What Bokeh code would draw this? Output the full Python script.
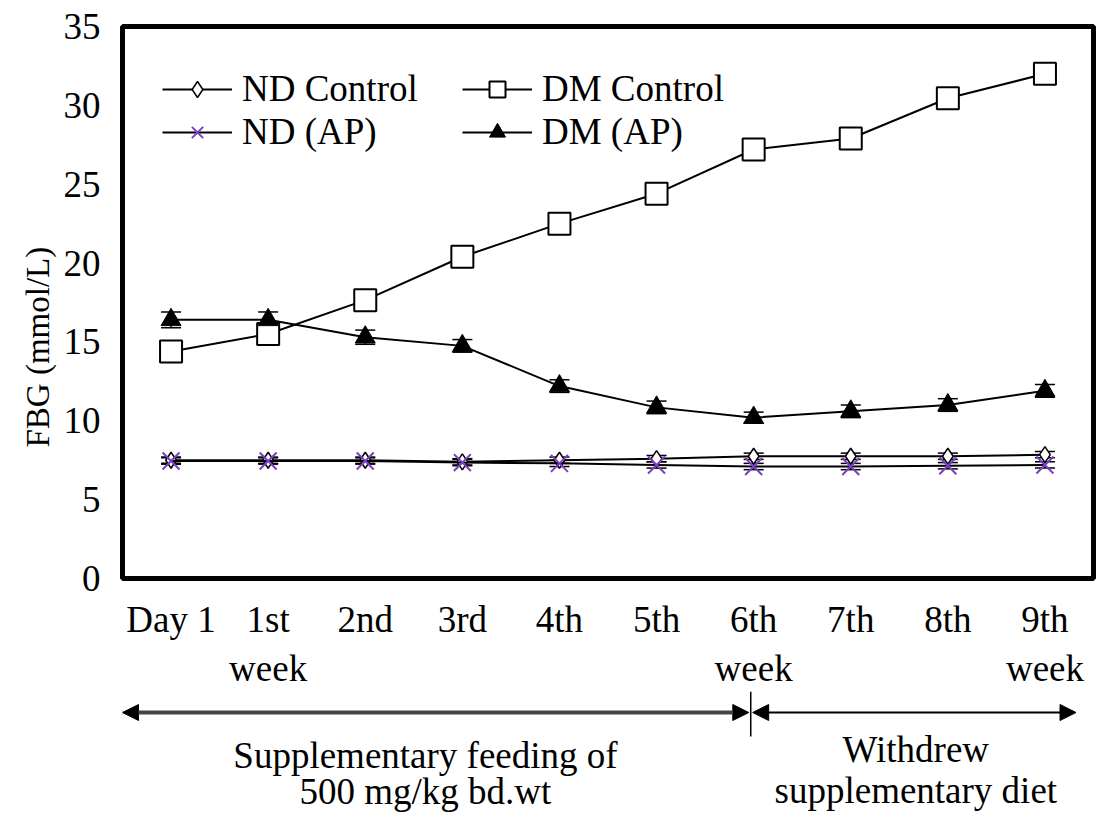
import math
from bokeh.plotting import figure
from bokeh.models import (Range1d, FixedTicker, Legend, LegendItem, Whisker, TeeHead,
                          ColumnDataSource, Title, Arrow, NormalHead)
from bokeh.layouts import column
from bokeh.core.properties import value
from bokeh.embed import file_html
from bokeh.resources import INLINE

# ---------------- data ----------------
categories = ["Day 1", "1st\nweek", "2nd", "3rd", "4th", "5th", "6th\nweek", "7th", "8th", "9th\nweek"]
nd_control = [7.5, 7.5, 7.5, 7.4, 7.5, 7.6, 7.75, 7.75, 7.75, 7.85]
dm_control = [14.4, 15.5, 17.65, 20.4, 22.5, 24.4, 27.2, 27.9, 30.45, 32.0]
nd_ap = [7.45, 7.45, 7.45, 7.35, 7.3, 7.2, 7.1, 7.1, 7.15, 7.2]
dm_ap = [16.4, 16.4, 15.3, 14.75, 12.2, 10.85, 10.2, 10.6, 11.0, 11.9]
nd_control_sd = [0.2, 0.2, 0.2, 0.2, 0.2, 0.2, 0.2, 0.2, 0.2, 0.2]
dm_control_sd = [0.35, 0.4, 0.4, 0.35, 0.4, 0.35, 0.3, 0.35, 0.3, 0.35]
nd_ap_sd = [0.2, 0.2, 0.2, 0.2, 0.2, 0.2, 0.2, 0.2, 0.2, 0.2]
dm_ap_sd = [0.5, 0.5, 0.45, 0.4, 0.4, 0.4, 0.35, 0.4, 0.4, 0.4]
y_ticks = [0, 5, 10, 15, 20, 25, 30, 35]
y_title = "FBG (mmol/L)"
phase_labels = ["Supplementary feeding of", "500 mg/kg bd.wt", "Withdrew", "supplementary diet"]

FONT = "Liberation Serif"
FS = "37px"
PURPLE = "#7B3FC4"

x = list(range(len(categories)))

p = figure(width=1097, height=691, x_range=Range1d(-0.5, len(categories) - 0.5),
           y_range=Range1d(0, 35), output_backend="svg", toolbar_location=None,
           min_border_left=122, min_border_right=4, min_border_top=26, min_border_bottom=110)
p.xgrid.visible = False
p.ygrid.visible = False
p.outline_line_color = "black"
p.outline_line_width = 5
p.background_fill_color = "white"
p.border_fill_color = "white"

p.xaxis.ticker = FixedTicker(ticks=x)
p.xaxis.major_label_overrides = {i: c for i, c in enumerate(categories)}
p.yaxis.ticker = FixedTicker(ticks=y_ticks)
for ax in (p.xaxis, p.yaxis):
    ax.axis_line_color = None
    ax.major_tick_line_color = None
    ax.minor_tick_line_color = None
    ax.major_tick_out = 0
    ax.major_tick_in = 0
    ax.minor_tick_out = 0
    ax.major_label_text_font = FONT
    ax.major_label_text_font_size = FS
    ax.major_label_text_color = "black"
p.xaxis.major_label_standoff = 20
p.yaxis.major_label_standoff = 22

series = [
    ("ND Control", nd_control, nd_control_sd, dict(marker="diamond", size=16, fill_color="white", line_color="black", line_width=1.5)),
    ("DM Control", dm_control, dm_control_sd, dict(marker="square", size=22, fill_color="white", line_color="black", line_width=2)),
    ("ND (AP)", nd_ap, nd_ap_sd, dict(marker="x", size=24, line_color=PURPLE, line_width=2)),
    ("DM (AP)", dm_ap, dm_ap_sd, dict(marker="triangle", size=20, fill_color="black", line_color="black", line_width=1)),
]

items = {}
for name, vals, sd, mk in series:
    src = ColumnDataSource(dict(x=x, y=vals,
                                upper=[v + s for v, s in zip(vals, sd)],
                                lower=[v - s for v, s in zip(vals, sd)]))
    lr = p.line("x", "y", source=src, line_color="black", line_width=2)
    sr = p.scatter("x", "y", source=src, **mk)
    w = Whisker(base="x", upper="upper", lower="lower", source=src, line_color="black", line_width=1.5,
                upper_head=TeeHead(size=20, line_width=1.5, line_color="black"),
                lower_head=TeeHead(size=20, line_width=1.5, line_color="black"))
    p.add_layout(w)
    items[name] = LegendItem(label=name, renderers=[lr, sr])

def make_legend(names, loc):
    lg = Legend(items=[items[n] for n in names], location=loc, orientation="vertical",
                label_text_font=FONT, label_text_font_size=FS, label_text_color="black",
                glyph_width=70, glyph_height=40, label_standoff=10, spacing=0,
                padding=0, margin=0, border_line_color=None, background_fill_alpha=0)
    p.add_layout(lg, "center")
    return lg

make_legend(["ND Control", "ND (AP)"], (40, 425))
make_legend(["DM Control", "DM (AP)"], (340, 425))

p.add_layout(Title(text=y_title, align="left", offset=131, text_font=FONT,
                   text_font_size="33px", text_font_style="normal", text_color="black"), "left")

# ---------------- phase annotation strip ----------------
p2 = figure(width=1097, height=125, x_range=p.x_range, y_range=Range1d(125, 0),
            output_backend="svg", toolbar_location=None,
            min_border_left=122, min_border_right=4, min_border_top=0, min_border_bottom=0,
            x_axis_location=None, y_axis_location=None)
p2.xgrid.visible = False
p2.ygrid.visible = False
p2.outline_line_color = None
p2.background_fill_color = "white"
p2.border_fill_color = "white"

split = 5.97  # boundary at the 6th week
p2.add_layout(Arrow(x_start=-0.5, y_start=21, x_end=split - 0.02, y_end=21,
                    line_color="#444444", line_width=4,
                    start=NormalHead(size=16, fill_color="black", line_color="black"),
                    end=NormalHead(size=16, fill_color="black", line_color="black")))
p2.add_layout(Arrow(x_start=split + 0.02, y_start=21, x_end=9.32, y_end=21,
                    line_color="black", line_width=2,
                    start=NormalHead(size=16, fill_color="black", line_color="black"),
                    end=NormalHead(size=16, fill_color="black", line_color="black")))
p2.segment(x0=[split], y0=[0], x1=[split], y1=[45], line_color="black", line_width=1.5)

p2.text(x=[2.62, 2.62, 7.67, 7.67], y=[64, 100, 58, 99], text=phase_labels,
        text_font=value(FONT), text_font_size=FS, text_align="center", text_baseline="middle",
        text_color="black")

layout = column(p, p2)
open("out.html", "w").write(file_html(layout, INLINE))
